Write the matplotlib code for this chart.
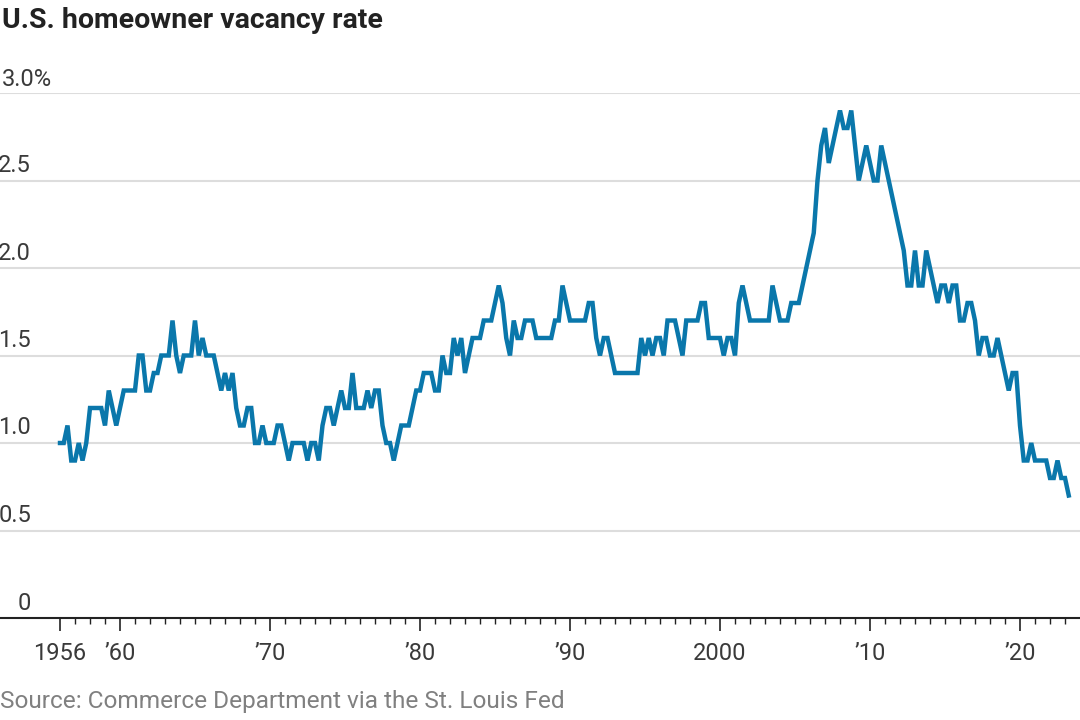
import numpy as np
import matplotlib
matplotlib.use("Agg")
import matplotlib.pyplot as plt

# quarterly homeowner vacancy rate (%), 1956 Q1 onwards
start_year = 1956
rate = [
    1.0, 1.0, 1.1, 0.9, 0.9, 1.0, 0.9, 1.0, 1.2, 1.2,
    1.2, 1.2, 1.1, 1.3, 1.2, 1.1, 1.2, 1.3, 1.3, 1.3,
    1.3, 1.5, 1.5, 1.3, 1.3, 1.4, 1.4, 1.5, 1.5, 1.5,
    1.7, 1.5, 1.4, 1.5, 1.5, 1.5, 1.7, 1.5, 1.6, 1.5,
    1.5, 1.5, 1.4, 1.3, 1.4, 1.3, 1.4, 1.2, 1.1, 1.1,
    1.2, 1.2, 1.0, 1.0, 1.1, 1.0, 1.0, 1.0, 1.1, 1.1,
    1.0, 0.9, 1.0, 1.0, 1.0, 1.0, 0.9, 1.0, 1.0, 0.9,
    1.1, 1.2, 1.2, 1.1, 1.2, 1.3, 1.2, 1.2, 1.4, 1.2,
    1.2, 1.2, 1.3, 1.2, 1.3, 1.3, 1.1, 1.0, 1.0, 0.9,
    1.0, 1.1, 1.1, 1.1, 1.2, 1.3, 1.3, 1.4, 1.4, 1.4,
    1.3, 1.3, 1.5, 1.4, 1.4, 1.6, 1.5, 1.6, 1.4, 1.5,
    1.6, 1.6, 1.6, 1.7, 1.7, 1.7, 1.8, 1.9, 1.8, 1.6,
    1.5, 1.7, 1.6, 1.6, 1.7, 1.7, 1.7, 1.6, 1.6, 1.6,
    1.6, 1.6, 1.7, 1.7, 1.9, 1.8, 1.7, 1.7, 1.7, 1.7,
    1.7, 1.8, 1.8, 1.6, 1.5, 1.6, 1.6, 1.5, 1.4, 1.4,
    1.4, 1.4, 1.4, 1.4, 1.4, 1.6, 1.5, 1.6, 1.5, 1.6,
    1.6, 1.5, 1.7, 1.7, 1.7, 1.6, 1.5, 1.7, 1.7, 1.7,
    1.7, 1.8, 1.8, 1.6, 1.6, 1.6, 1.6, 1.5, 1.6, 1.6,
    1.5, 1.8, 1.9, 1.8, 1.7, 1.7, 1.7, 1.7, 1.7, 1.7,
    1.9, 1.8, 1.7, 1.7, 1.7, 1.8, 1.8, 1.8, 1.9, 2.0,
    2.1, 2.2, 2.5, 2.7, 2.8, 2.6, 2.7, 2.8, 2.9, 2.8,
    2.8, 2.9, 2.7, 2.5, 2.6, 2.7, 2.6, 2.5, 2.5, 2.7,
    2.6, 2.5, 2.4, 2.3, 2.2, 2.1, 1.9, 1.9, 2.1, 1.9,
    1.9, 2.1, 2.0, 1.9, 1.8, 1.9, 1.9, 1.8, 1.9, 1.9,
    1.7, 1.7, 1.8, 1.8, 1.7, 1.5, 1.6, 1.6, 1.5, 1.5,
    1.6, 1.5, 1.4, 1.3, 1.4, 1.4, 1.1, 0.9, 0.9, 1.0,
    0.9, 0.9, 0.9, 0.9, 0.8, 0.8, 0.9, 0.8, 0.8, 0.7,
]
y_ticks = [0, 0.5, 1.0, 1.5, 2.0, 2.5, 3.0]
y_labels = ["0", "0.5", "1.0", "1.5", "2.0", "2.5", "3.0%"]
x_ticks = [1956, 1960, 1970, 1980, 1990, 2000, 2010, 2020]
x_labels = ["1956", "\u201960", "\u201970", "\u201980", "\u201990", "2000", "\u201910", "\u201920"]

quarters = start_year + np.arange(len(rate)) / 4.0

plt.rcParams["font.family"] = ["Roboto", "DejaVu Sans"]

fig = plt.figure(figsize=(10.8, 7.2), dpi=100)
ax = fig.add_axes([0, (720 - 618) / 720, 1, (618 - 93) / 720])
ax.set_xlim(1952, 2024)
ax.set_ylim(0, 3.0)

for v in y_ticks[1:]:
    ax.axhline(v, color="#dddddd", lw=1.5, zorder=1)

ax.plot(quarters, rate, color="#0a77ab", lw=3.2, solid_joinstyle="miter",
        zorder=3, clip_on=False)

for s in ["top", "right", "left"]:
    ax.spines[s].set_visible(False)
ax.spines["bottom"].set_color("#222222")
ax.spines["bottom"].set_linewidth(1.5)

ax.set_yticks([])
ax.set_xticks(x_ticks)
ax.set_xticklabels(x_labels, fontsize=17, color="#3a3a3a")
ax.set_xticks(np.arange(1956, 2024), minor=True)
ax.tick_params(axis="x", which="major", length=9, width=1.2, color="#222222", pad=8)
ax.tick_params(axis="x", which="minor", length=4, width=1.0, color="#222222")

for v, lab in zip(y_ticks, y_labels):
    if lab.endswith("%"):
        ax.text(2 / 1080, v + 0.01, lab, transform=ax.get_yaxis_transform(),
                ha="left", va="bottom", fontsize=17, color="#3a3a3a")
    else:
        ax.text(31 / 1080, v + 0.02, lab, transform=ax.get_yaxis_transform(),
                ha="right", va="bottom", fontsize=17, color="#3a3a3a")

fig.text(2 / 1080, 1 - 7 / 720, "U.S. homeowner vacancy rate", ha="left", va="top",
         fontsize=20.5, fontweight="bold", color="#222222")
fig.text(0, 7 / 720, "Source: Commerce Department via the St. Louis Fed",
         ha="left", va="bottom", fontsize=17.6, color="#808080")

fig.savefig("out.png", dpi=100)
